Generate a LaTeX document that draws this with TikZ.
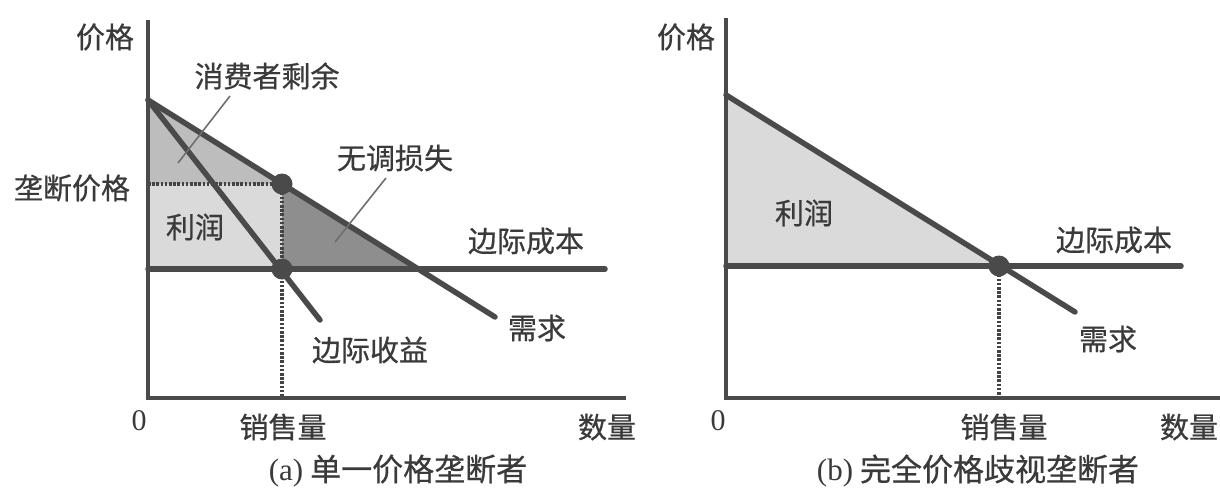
\documentclass[tikz,border=0pt]{standalone}
\usepackage{fontspec}
\setmainfont{Liberation Serif}
\newfontfamily\cjk[FakeBold=0.6]{Noto Sans CJK SC}
\definecolor{ink}{HTML}{4A4A4A}
\definecolor{txt}{HTML}{3A3A3A}
\definecolor{lightfill}{HTML}{DADADA}
\definecolor{midfill}{HTML}{BDBDBD}
\definecolor{darkfill}{HTML}{8E8E8E}
\tikzset{
  axisline/.style={draw=ink, line width=3.5pt},
  curve/.style={draw=ink, line width=5.5pt, line cap=round},
  guide/.style={draw=ink!90!black, line width=3.2pt, dash pattern=on 2.6pt off 1.6pt},
  leader/.style={draw=ink!80, line width=1.6pt},
  lbl/.style={text=txt, font=\cjk\fontsize{29}{29}\selectfont, inner sep=0pt},
  captionlbl/.style={text=txt, font=\cjk\fontsize{31}{31}\selectfont, inner sep=0pt},
  num/.style={text=txt, font=\fontsize{30}{30}\selectfont, inner sep=0pt},
  pt/.style={circle, fill=ink, minimum size=21pt, inner sep=0pt}
}
\begin{document}
\begin{tikzpicture}[x=1pt,y=-1pt]
\useasboundingbox (0,0) rectangle (1220,488);
% ---------- panel (a) ----------
\coordinate (aO) at (148,398);
\coordinate (aYt) at (148,20);
\coordinate (aXr) at (626,398);
\coordinate (aD0) at (148,100);
\coordinate (aD1) at (495,317);
\coordinate (aR1) at (320,320);
\coordinate (aM) at (282,184);
\coordinate (aC) at (282,269);
\coordinate (aPm) at (148,184);
\coordinate (aPc) at (148,269);
\coordinate (aDW) at (418,269);
\coordinate (aMC1) at (605,269);
\coordinate (aQ) at (282,398);
% fills
\fill[midfill] (aD0) -- (aPm) -- (aM) -- cycle;
\fill[lightfill] (aPm) rectangle (aC);
\fill[darkfill] (aM) -- (aC) -- (aDW) -- cycle;
% guides
\draw[guide] (aPm) -- (aM);
\draw[guide] (aM) -- (aQ);
% axes
\draw[axisline] (aYt) -- (aO) -- (aXr);
% curves
\draw[curve] (aPc) -- (aMC1);
\draw[curve] (aD0) -- (aR1);
\draw[curve] (aD0) -- (aD1);
\node[pt] (aMdot) at (aM) {};
\node[pt] (aCdot) at (aC) {};
% labels
\node[lbl] (aPrice) at (105,37) {价格};
\node[lbl] (aCS) at (267,76) {消费者剩余};
\node[lbl] (aMP) at (72,188) {垄断价格};
\node[lbl] (aProfit) at (195,227) {利润};
\node[lbl] (aDWL) at (395,158) {无调损失};
\node[lbl] (aMCl) at (526,241) {边际成本};
\node[lbl] (aDl) at (537,328) {需求};
\node[lbl] (aMRl) at (370,350) {边际收益};
\node[num] (aZero) at (139,421) {0};
\node[lbl] (aQl) at (283,427) {销售量};
\node[lbl] (aQty) at (607,427) {数量};
\node[captionlbl] (aCap) at (398,471) {{\rmfamily (a)} 单一价格垄断者};
\coordinate (aCSa) at (230,96);
\coordinate (aCSb) at (178,163);
\draw[leader] (aCSa) -- (aCSb);
\coordinate (aDWa) at (386,178);
\coordinate (aDWb) at (335,242);
\draw[leader] (aDWa) -- (aDWb);
% ---------- panel (b) ----------
\coordinate (bO) at (726,398);
\coordinate (bYt) at (726,18);
\coordinate (bXr) at (1220,398);
\coordinate (bD0) at (726,95);
\coordinate (bD1) at (1075,312);
\coordinate (bC) at (999,266);
\coordinate (bPc) at (726,266);
\coordinate (bMC1) at (1181,266);
\coordinate (bQ) at (999,398);
\fill[lightfill] (bD0) -- (bPc) -- (bC) -- cycle;
\draw[guide] (bC) -- (bQ);
\draw[axisline] (bYt) -- (bO) -- (bXr);
\draw[curve] (bPc) -- (bMC1);
\draw[curve] (bD0) -- (bD1);
\node[pt] (bCdot) at (bC) {};
\node[lbl] (bPrice) at (686,37) {价格};
\node[lbl] (bProfit) at (804,213) {利润};
\node[lbl] (bMCl) at (1114,240) {边际成本};
\node[lbl] (bDl) at (1108,339) {需求};
\node[num] (bZero) at (718,421) {0};
\node[lbl] (bQl) at (1004,427) {销售量};
\node[lbl] (bQty) at (1189,427) {数量};
\node[captionlbl] (bCap) at (978,471) {{\rmfamily (b)} 完全价格歧视垄断者};
\end{tikzpicture}
\end{document}
